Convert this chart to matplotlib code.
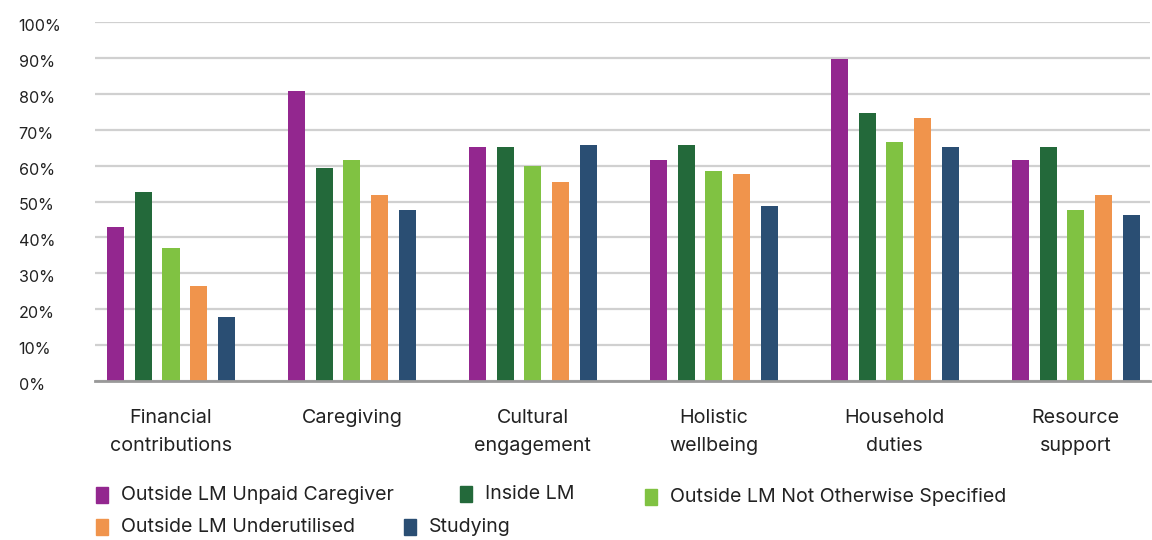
import numpy as np
import matplotlib.pyplot as plt
import matplotlib.transforms as mtransforms
from matplotlib.patches import Rectangle

plt.rcParams['font.family'] = ['Inter', 'DejaVu Sans']

# Data
categories = ['Financial\ncontributions', 'Caregiving', 'Cultural\nengagement',
              'Holistic\nwellbeing', 'Household\nduties', 'Resource\nsupport']
series_names = ['Outside LM Unpaid Caregiver', 'Inside LM',
                'Outside LM Not Otherwise Specified', 'Outside LM Underutilised', 'Studying']
unpaid_caregiver = [42.8, 80.8, 65.1, 61.5, 89.7, 61.5]
inside_lm = [52.6, 59.3, 65.1, 65.7, 74.6, 65.1]
not_specified = [37.0, 61.5, 59.9, 58.5, 66.5, 47.6]
underutilised = [26.4, 51.8, 55.4, 57.6, 73.2, 51.8]
studying = [17.8, 47.6, 65.7, 48.7, 65.1, 46.2]
yticks = [0, 10, 20, 30, 40, 50, 60, 70, 80, 90, 100]

colors = ['#93278F', '#23693A', '#80C242', '#F0944C', '#2A4E73']
values = [unpaid_caregiver, inside_lm, not_specified, underutilised, studying]

fig = plt.figure(figsize=(11.52, 5.4), dpi=100)
ax = fig.add_axes([95 / 1152, 1 - 381 / 540, 1055 / 1152, 359 / 540])

x = np.arange(len(categories))
bar_w = 0.094
step = 0.153
for i, (vals, col) in enumerate(zip(values, colors)):
    ax.bar(x + (i - 2) * step, vals, width=bar_w, color=col, zorder=3)

ax.set_ylim(0, 100)
ax.set_xlim(-0.42, 5.41)
ax.set_yticks(yticks)
ax.set_yticklabels([f'{v}%' for v in yticks], fontsize=11.6, color='#222222', ha='left')
ax.tick_params(axis='y', length=0, pad=55)
shift = mtransforms.ScaledTranslation(0, -3 / 100, fig.dpi_scale_trans)
for lab in ax.get_yticklabels():
    lab.set_transform(lab.get_transform() + shift)
ax.set_xticks([])
ax.grid(axis='y', color='#d0d0d0', linewidth=1.6, zorder=0)
for s in ['top', 'right', 'left']:
    ax.spines[s].set_visible(False)
ax.spines['bottom'].set_color('#999999')
ax.spines['bottom'].set_linewidth(2)
ax.spines['bottom'].set_zorder(4)

# Category labels
for xi, cat in zip(x, categories):
    ax.text(xi, -7.8, cat, ha='center', va='top', fontsize=14.2, color='#222222',
            linespacing=1.68, transform=ax.transData, clip_on=False)

# Legend laid out like the original
legend_pos = [(96, 495), (460, 494), (645, 497), (96, 527), (404, 527)]
for (px, py), name, col in zip(legend_pos, series_names, colors):
    fig.patches.append(Rectangle((px / 1152, 1 - (py + 8) / 540), 12 / 1152, 16 / 540,
                                 transform=fig.transFigure, color=col))
    fig.text((px + 25) / 1152, 1 - py / 540, name, ha='left', va='center',
             fontsize=14.1, color='#222222')

fig.savefig('out.png', dpi=100)
